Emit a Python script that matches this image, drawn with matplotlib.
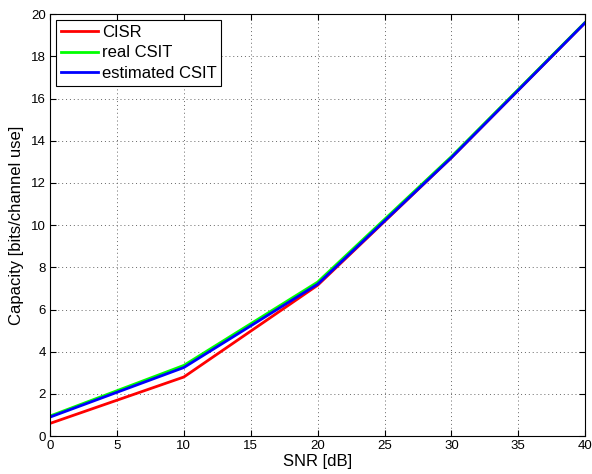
import matplotlib
matplotlib.use("Agg")
import matplotlib.pyplot as plt

snr = [0, 10, 20, 30, 40]
cisr = [0.6, 2.8, 7.15, 13.2, 19.6]
real_csit = [0.95, 3.35, 7.3, 13.25, 19.62]
est_csit = [0.9, 3.25, 7.2, 13.2, 19.6]

plt.rcParams['font.family'] = ['Liberation Sans', 'DejaVu Sans']

fig = plt.figure(figsize=(5.92, 4.74), dpi=100)
ax = fig.add_axes([0.0845, 0.080, 0.904, 0.890])

ax.plot(snr, cisr, color='#ff0000', lw=2, label='CISR')
ax.plot(snr, real_csit, color='#00ff00', lw=2, label='real CSIT')
ax.plot(snr, est_csit, color='#0000ff', lw=2, label='estimated CSIT')

ax.set_xlim(0, 40)
ax.set_ylim(0, 20)
ax.set_xticks(range(0, 41, 5))
ax.set_yticks(range(0, 21, 2))
ax.tick_params(direction='in', top=True, right=True, labelsize=9.5, length=4, pad=3)
ax.grid(True, linestyle=(0, (1, 3)), color='#666666', linewidth=0.7)
ax.set_xlabel('SNR [dB]', fontsize=12, labelpad=1)
ax.set_ylabel('Capacity [bits/channel use]', fontsize=12, labelpad=5)
for s in ax.spines.values():
    s.set_linewidth(0.8)

leg = ax.legend(loc='upper left', fontsize=12, fancybox=False, framealpha=1,
                edgecolor='black', handlelength=2.2, borderaxespad=0.35,
                labelspacing=0.32, handletextpad=0.25, borderpad=0.3)
leg.get_frame().set_linewidth(0.8)

fig.savefig('out.png', dpi=100)
